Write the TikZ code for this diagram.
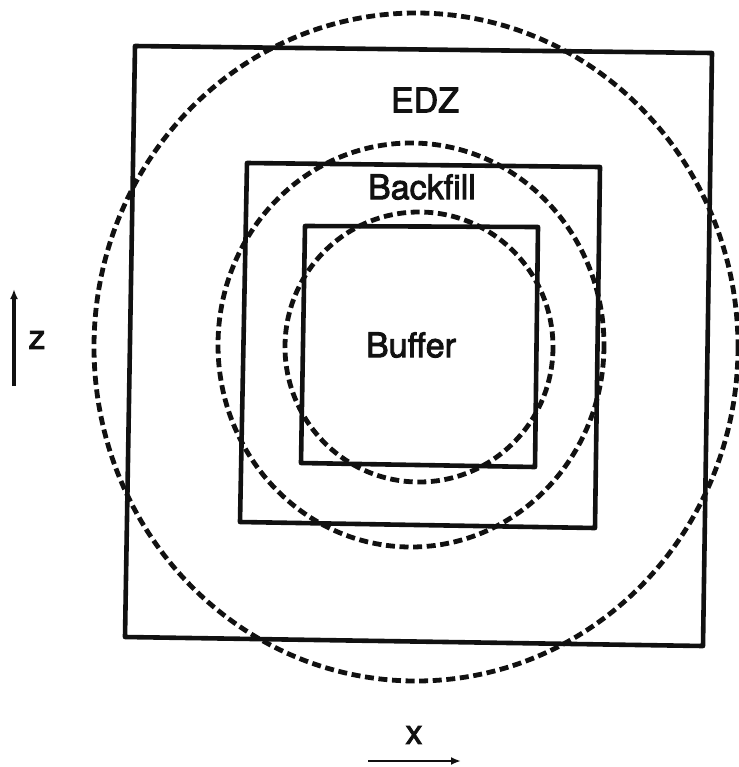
\documentclass[tikz,border=0pt]{standalone}
\usepackage{fontspec}
\setmainfont{TeX Gyre Heros}
\newcommand{\inkstroke}{\special{pdf:literal direct 2 Tr 0.45 w}}
\usetikzlibrary{arrows.meta,positioning,calc}
\definecolor{ink}{HTML}{111111}

\begin{document}
\begin{tikzpicture}[
    x=0.5pt, y=-0.5pt,
    wall/.style={draw=ink, line width=2.3pt, line join=round},
    zone/.style={draw=ink, line width=2.4pt, dash pattern=on 4.5pt off 2.3pt},
    label/.style={font=\fontsize{17}{20}\selectfont\inkstroke, text=ink, inner sep=0pt},
    arrow/.style={-{Latex[length=5pt,width=4pt]}, draw=ink}
  ]
    \useasboundingbox (0,0) rectangle (739,767);

    \draw[wall] (135,46) -- (712,53) -- (703,646) -- (125,637) -- cycle;
    \draw[wall] (247,163) -- (600,167) -- (595,528) -- (240,522) -- cycle;
    \draw[wall] (305,226) -- (538,227) -- (535,467) -- (301,463) -- cycle;

    \draw[zone] (416,347) ellipse [x radius=322, y radius=334];
    \draw[zone] (411,345) ellipse [x radius=193, y radius=202];
    \draw[zone] (419,347) ellipse [x radius=134, y radius=135];

    \node[label] (edz) at (425,100) {EDZ};
    \node[label] (backfill) at (422,187) {Backfill};
    \node[label] (buffer) at (411,345) {Buffer};

    \node[label] (zlab) at (37,340) {z};
    \coordinate (zlow) at (14,386);
    \coordinate (zhigh) at (14,289);
    \draw[arrow, line width=2pt] (zlow) -- (zhigh);

    \node[label] (xlab) at (414,735) {x};
    \coordinate (xleft) at (368,761);
    \coordinate (xright) at (461,761);
    \draw[arrow, line width=1.4pt] (xleft) -- (xright);
  \end{tikzpicture}
\end{document}
